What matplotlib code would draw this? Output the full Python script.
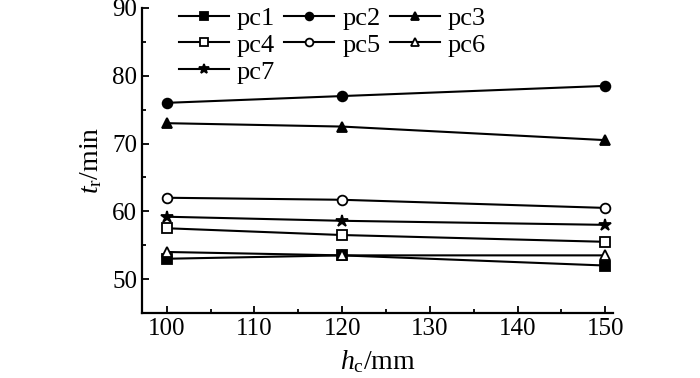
import matplotlib
matplotlib.use("Agg")
import matplotlib.pyplot as plt
from matplotlib.ticker import MultipleLocator

plt.rcParams['font.family'] = ['Liberation Serif', 'DejaVu Serif']
plt.rcParams['mathtext.fontset'] = 'custom'
plt.rcParams['mathtext.rm'] = 'Liberation Serif'
plt.rcParams['mathtext.it'] = 'Liberation Serif:italic'

hc = [100, 120, 150]
series = {
    'pc1': [53.0, 53.5, 52.0],
    'pc2': [76.0, 77.0, 78.5],
    'pc3': [73.0, 72.5, 70.5],
    'pc4': [57.5, 56.5, 55.5],
    'pc5': [62.0, 61.7, 60.5],
    'pc6': [54.0, 53.5, 53.5],
    'pc7': [59.2, 58.6, 58.0],
}
styles = {
    'pc1': ('s', 'black'),
    'pc2': ('o', 'black'),
    'pc3': ('^', 'black'),
    'pc4': ('s', 'white'),
    'pc5': ('o', 'white'),
    'pc6': ('^', 'white'),
    'pc7': ('*', 'black'),
}

fig = plt.figure(figsize=(7, 3.78), dpi=100)
ax = fig.add_axes([0.203, 0.172, 0.673, 0.807])
handles = {}
for name, vals in series.items():
    m, fc = styles[name]
    ms = 9 if m == '*' else 7
    h, = ax.plot(hc, vals, color='black', lw=1.5, marker=m, ms=ms,
                 mfc=fc, mec='black', mew=1.3, label=name)
    handles[name] = h

ax.set_xlim(97.2, 150.9)
ax.set_ylim(45, 90)
ax.xaxis.set_major_locator(MultipleLocator(10))
ax.xaxis.set_minor_locator(MultipleLocator(5))
ax.yaxis.set_major_locator(MultipleLocator(10))
ax.yaxis.set_minor_locator(MultipleLocator(5))
ax.tick_params(which='both', direction='in', labelsize=18, width=1.3)
ax.tick_params(which='major', length=5)
ax.tick_params(which='minor', length=3)
ax.tick_params(top=False, right=False)
for s in ['top', 'right']:
    ax.spines[s].set_visible(False)
for s in ['left', 'bottom']:
    ax.spines[s].set_linewidth(1.6)

ax.set_xlabel(r'$h_{\mathrm{c}}$/mm', fontsize=20, labelpad=6)
ax.set_ylabel(r'$t_{\mathrm{r}}$/min', fontsize=20, labelpad=6)

order = ['pc1', 'pc4', 'pc7', 'pc2', 'pc5', 'pc3', 'pc6']
ax.legend([handles[k] for k in order], order, ncol=3, loc='upper left',
          bbox_to_anchor=(0.055, 1.04), frameon=False,
          fontsize=19, handlelength=1.9, handletextpad=0.3, columnspacing=0.35,
          labelspacing=0.13, borderaxespad=0, markerscale=0.8)

fig.savefig('out.png', dpi=100)
